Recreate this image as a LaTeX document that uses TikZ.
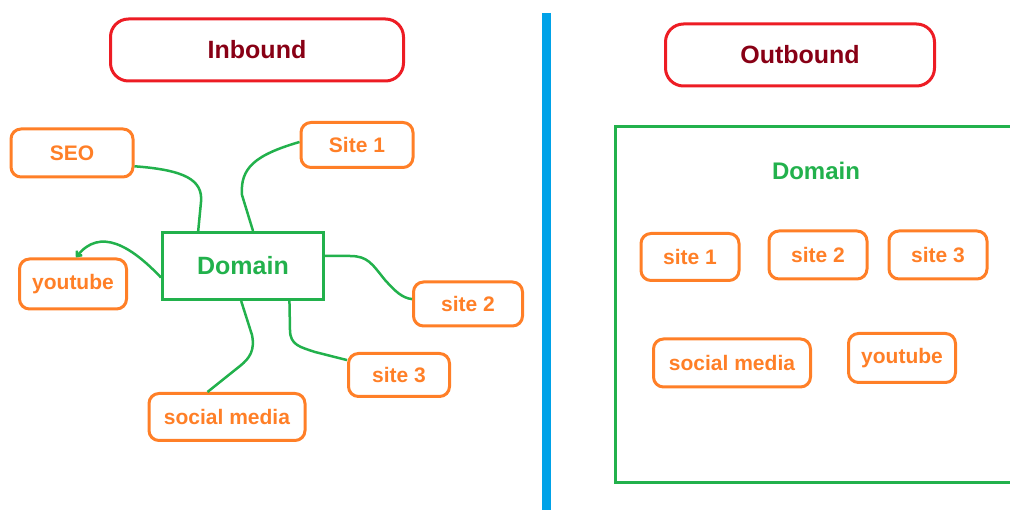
\documentclass[tikz,border=0pt]{standalone}
\usepackage{fontspec}
\setmainfont{Liberation Sans}
\usepackage{xcolor}
\usepackage{tikz}
\usetikzlibrary{arrows.meta}
\definecolor{titlered}{RGB}{237,28,36}
\definecolor{darkred}{RGB}{136,0,21}
\definecolor{paintgreen}{RGB}{34,177,76}
\definecolor{paintorange}{RGB}{255,127,39}
\definecolor{paintblue}{RGB}{0,162,232}
\tikzset{
  titlebox/.style={draw=titlered, line width=3pt, rounded corners=18pt, minimum height=62pt, text=darkred, font=\fontsize{25}{30}\selectfont\bfseries},
  sitebox/.style={draw=paintorange, line width=3pt, rounded corners=10pt, text=paintorange, font=\fontsize{21}{25}\selectfont\bfseries},
  domainbox/.style={draw=paintgreen, line width=3pt, text=paintgreen, font=\fontsize{25}{30}\selectfont\bfseries},
  link/.style={draw=paintgreen, line width=2.5pt}
}

\begin{document}
\begin{tikzpicture}[x=1pt, y=-1pt]
        \useasboundingbox (0,0) rectangle (1010,510);

        % Titres
        \node[titlebox, minimum width=293pt] (inbound) at (257,50) {Inbound};
        \node[titlebox, minimum width=269pt] (outbound) at (800,55) {Outbound};

        % Separation
        \draw[paintblue, line width=9pt] (546,13) -- (546,510);

        % Inbound
        \node[domainbox, minimum width=161pt, minimum height=67pt] (dom) at (243,266) {Domain};
        \node[sitebox, minimum width=122pt, minimum height=48pt] (seo) at (72,153) {SEO};
        \node[sitebox, minimum width=112pt, minimum height=45pt] (s1) at (357,145) {Site 1};
        \node[sitebox, minimum width=107pt, minimum height=50pt] (yt) at (73,284) {youtube};
        \node[sitebox, minimum width=109pt, minimum height=44pt] (s2) at (468,304) {site 2};
        \node[sitebox, minimum width=101pt, minimum height=43pt] (s3) at (399,375) {site 3};
        \node[sitebox, minimum width=156pt, minimum height=47pt] (sm) at (227,417) {social media};

        % Liens
        \draw[link] (seo.-12) .. controls (185,170) and (203,180) .. (201,202) -- (dom.142);
        \draw[link] (s1.177) .. controls (255,155) and (240,168) .. (242,195) -- (dom.74);
        \draw[link, -{Straight Barb[length=4pt, width=7pt]}] (dom.188) .. controls (130,245) and (100,228) .. (yt.84);
        \draw[link] (dom.7) -- (350,256) .. controls (368,256) and (372,264) .. (385,280) .. controls (395,291) and (402,298) .. (s2.175);
        \draw[link] (dom.-37) -- (290,330) .. controls (290,345) and (300,347) .. (315,352) -- (s3.164);
        \draw[link] (dom.-93) -- (252,335) .. controls (255,350) and (250,358) .. (240,366) -- (sm.128);

        % Outbound
        \draw[paintgreen, line width=3pt] (1015,127) -- (615,127) -- (615,483) -- (1015,483);
        \node[text=paintgreen, font=\fontsize{24}{29}\selectfont\bfseries] (odom) at (816,171) {Domain};
        \node[sitebox, minimum width=98pt, minimum height=47pt] (o1) at (690,257) {site 1};
        \node[sitebox, minimum width=98pt, minimum height=48pt] (o2) at (818,255) {site 2};
        \node[sitebox, minimum width=98pt, minimum height=48pt] (o3) at (938,255) {site 3};
        \node[sitebox, minimum width=157pt, minimum height=48pt] (osm) at (732,363) {social media};
        \node[sitebox, minimum width=107pt, minimum height=49pt] (oyt) at (902,358) {youtube};
\end{tikzpicture}
\end{document}
